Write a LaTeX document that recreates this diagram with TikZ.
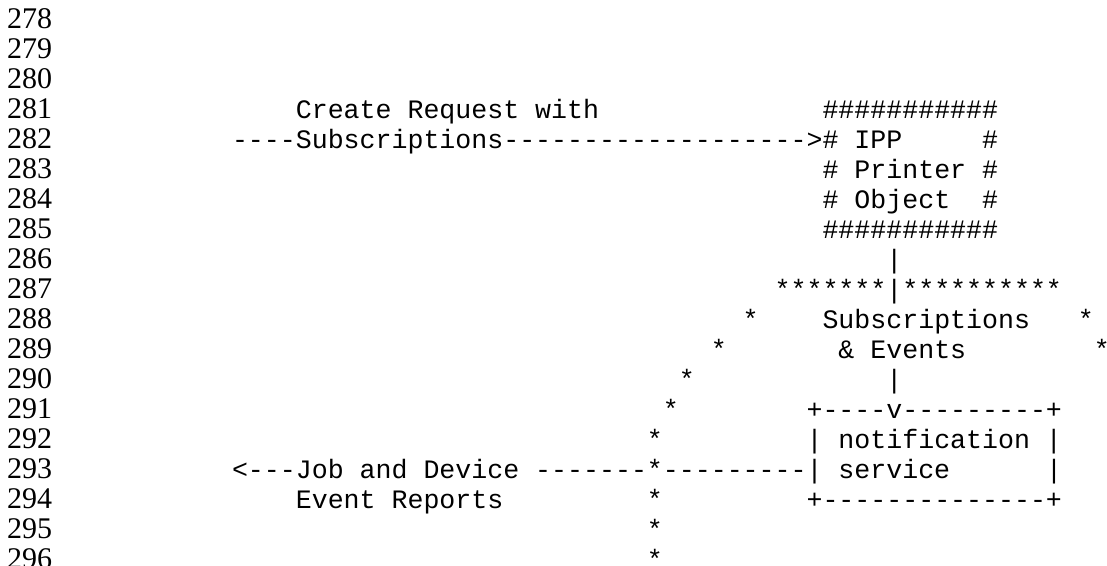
\documentclass[tikz,border=0pt]{standalone}
\usepackage{fontspec}
\setmainfont{Liberation Serif}
\setmonofont{Liberation Mono}
\begin{document}
\begin{tikzpicture}[x=1pt,y=1pt,
  mono/.style={anchor=base west,inner sep=0pt,outer sep=0pt,font=\ttfamily\fontsize{26.6}{30}\selectfont},
  lnum/.style={anchor=base west,inner sep=0pt,outer sep=0pt,font=\rmfamily\fontsize{30}{30}\selectfont}]
\useasboundingbox[fill=white] (0,0) rectangle (1107,-565);
% line numbers
\foreach \n in {278,...,296}{
  \node[lnum] (num\n) at (7,{-28-(\n-278)*30}) {\n};
}
% column x = 232 + c*15.96
\node[mono] (req)    at ({232+4*15.96},-118) {Create Request with};
\node[mono] (boxtop) at ({232+37*15.96},-118) {\#\#\#\#\#\#\#\#\#\#\#};
\node[mono] (subarr) at ({232+0*15.96},-148) {----Subscriptions------------------->};
\node[mono] (ipp)    at ({232+37*15.96},-148) {\#~IPP~~~~~\#};
\node[mono] (prn)    at ({232+37*15.96},-178) {\#~Printer~\#};
\node[mono] (obj)    at ({232+37*15.96},-208) {\#~Object~~\#};
\node[mono] (boxbot) at ({232+37*15.96},-238) {\#\#\#\#\#\#\#\#\#\#\#};
\node[mono] (bar1)   at ({232+41*15.96},-268) {|};
\node[mono] (stars)  at ({232+34*15.96},-298) {*******|**********};
\node[mono] (s288l)  at ({232+32*15.96},-328) {*};
\node[mono] (subs)   at ({232+37*15.96},-328) {Subscriptions};
\node[mono] (s288r)  at ({232+53*15.96},-328) {*};
\node[mono] (s289l)  at ({232+30*15.96},-358) {*};
\node[mono] (evts)   at ({232+38*15.96},-358) {\&~Events};
\node[mono] (s289r)  at ({232+54*15.96},-358) {*};
\node[mono] (s290)   at ({232+28*15.96},-388) {*};
\node[mono] (bar2)   at ({232+41*15.96},-388) {|};
\node[mono] (s291)   at ({232+27*15.96},-418) {*};
\node[mono] (nstop)  at ({232+36*15.96},-418) {+----v---------+};
\node[mono] (s292)   at ({232+26*15.96},-448) {*};
\node[mono] (nsnote) at ({232+36*15.96},-448) {|~notification~|};
\node[mono] (jobarr) at ({232+0*15.96},-478) {<---Job~and~Device~-------*---------|~service~~~~~~|};
\node[mono] (evrep)  at ({232+4*15.96},-508) {Event~Reports};
\node[mono] (s294)   at ({232+26*15.96},-508) {*};
\node[mono] (nsbot)  at ({232+36*15.96},-508) {+--------------+};
\node[mono] (s295)   at ({232+26*15.96},-538) {*};
\node[mono] (s296)   at ({232+26*15.96},-568) {*};
\end{tikzpicture}
\end{document}
